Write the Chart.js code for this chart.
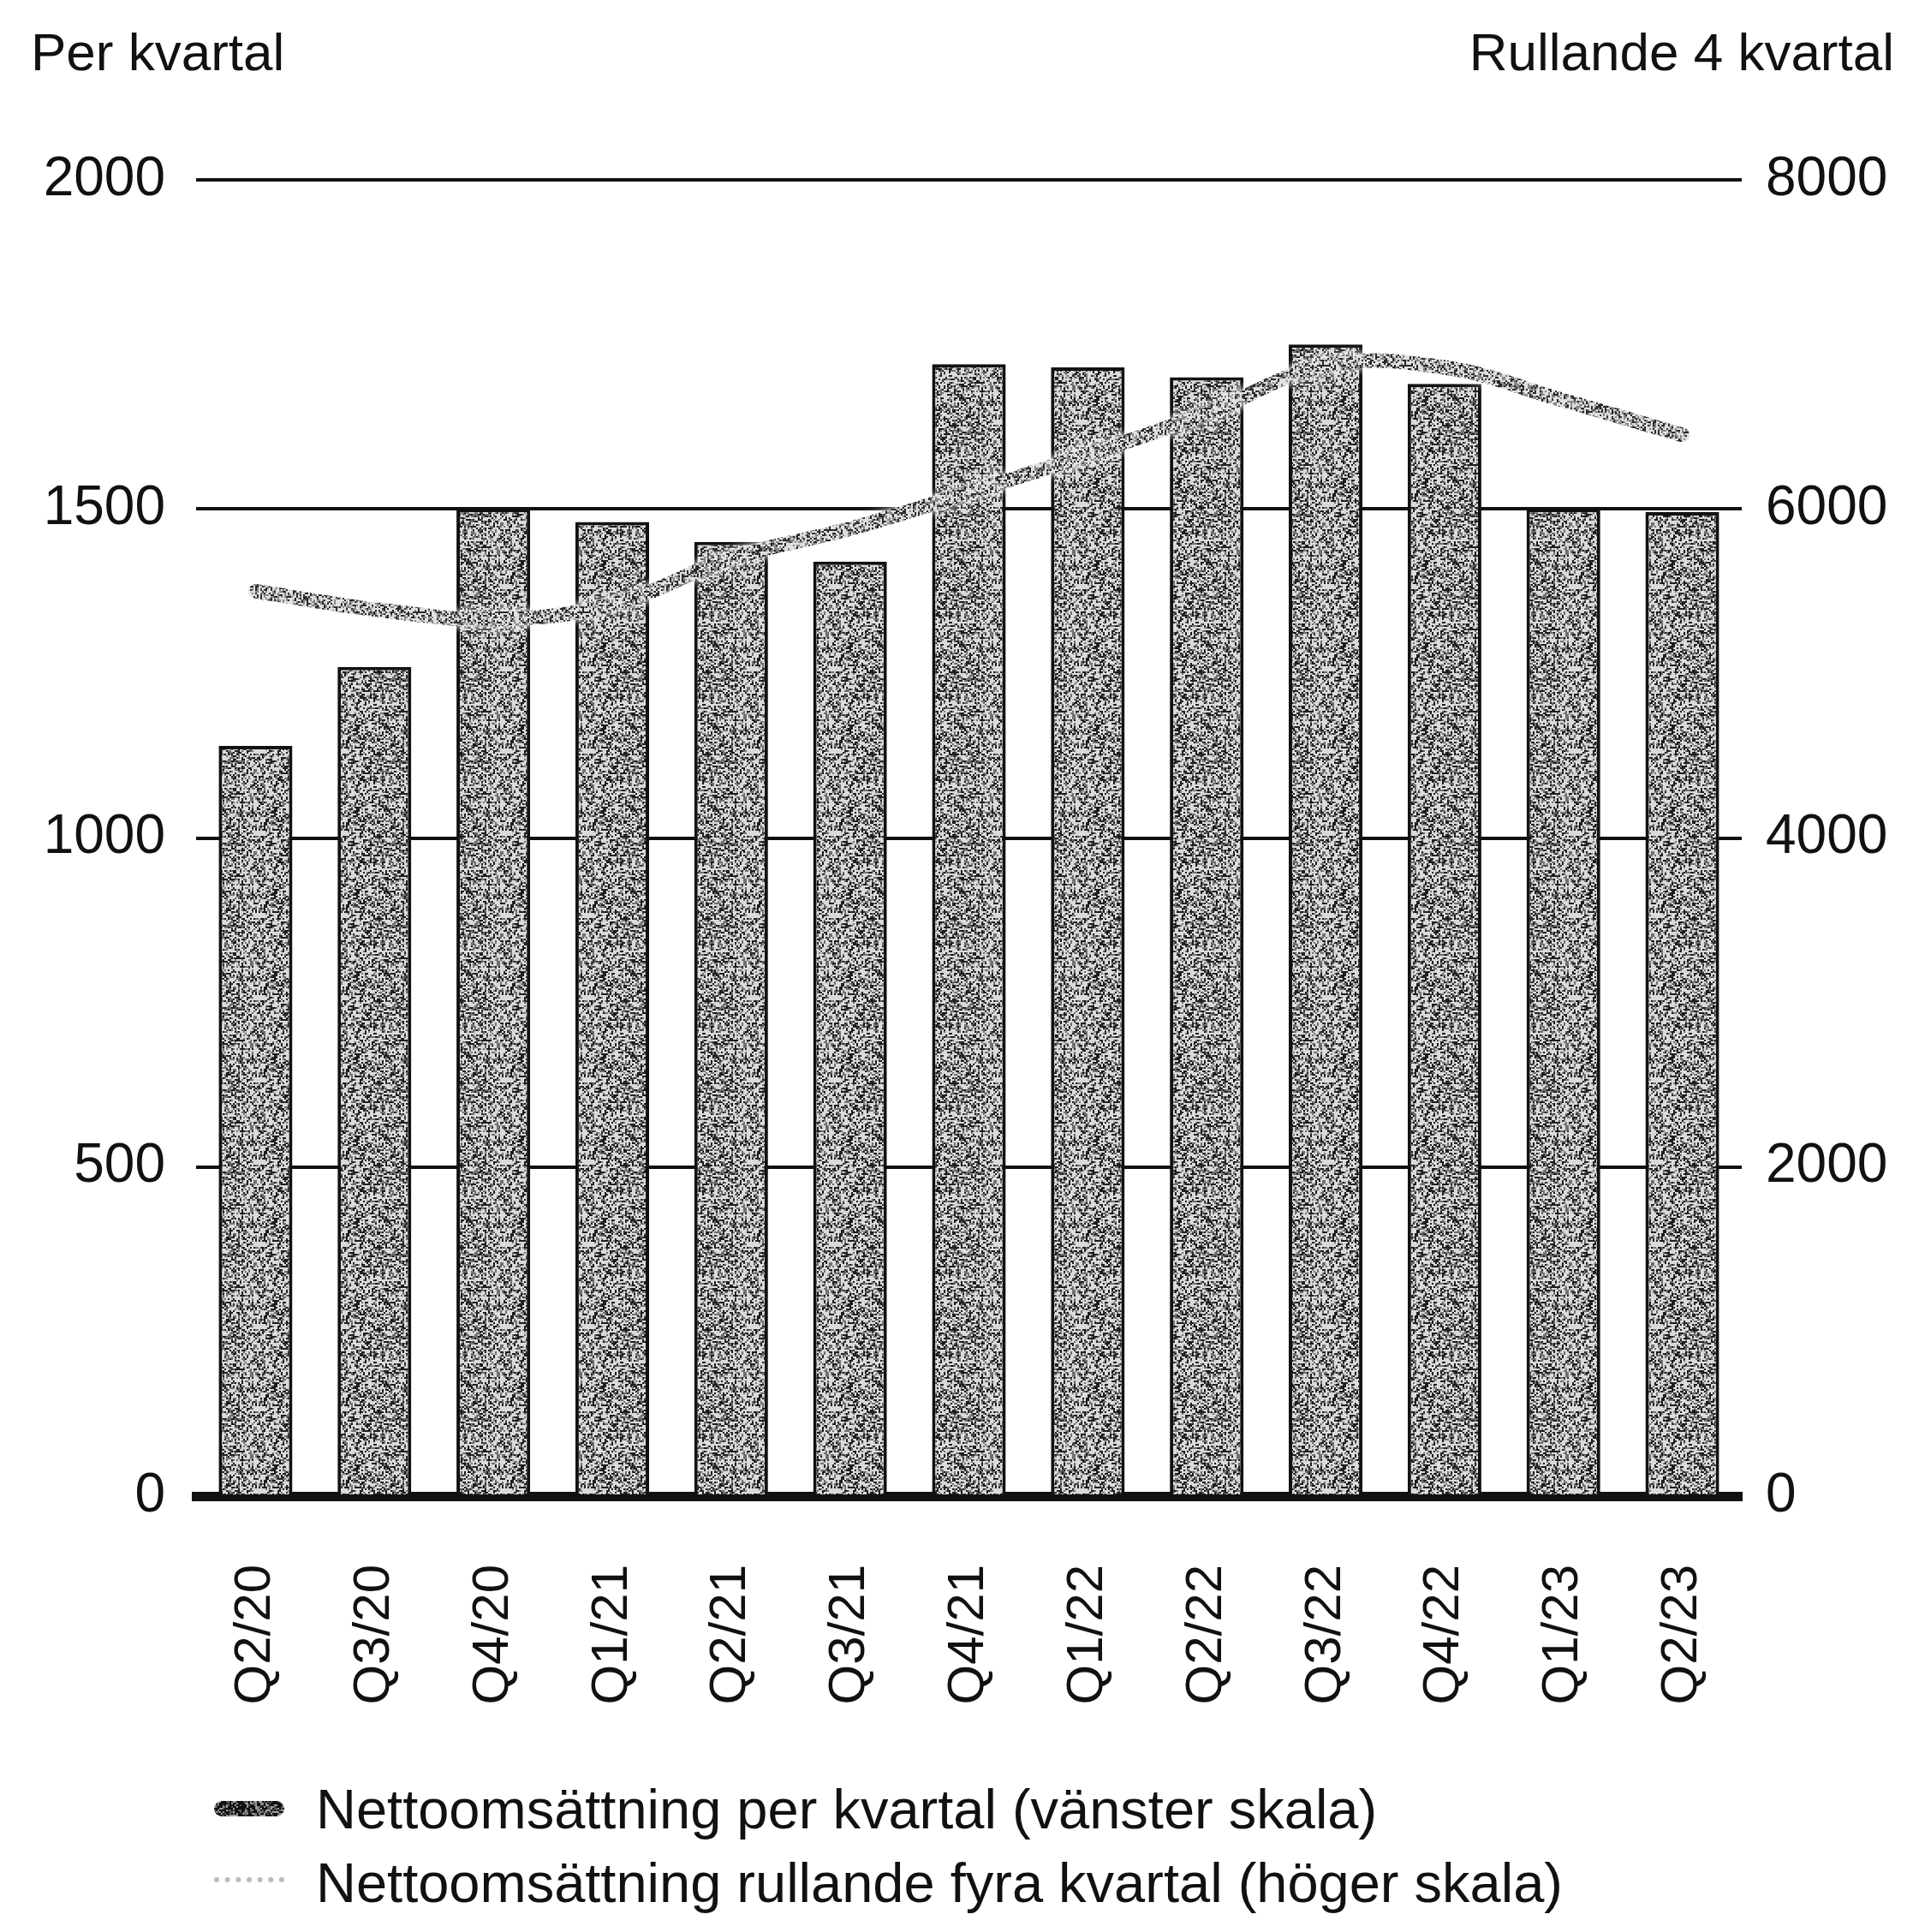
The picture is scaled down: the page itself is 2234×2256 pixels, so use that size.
<!DOCTYPE html>
<html>
<head>
<meta charset="utf-8">
<script src="https://cdn.jsdelivr.net/npm/chart.js@4.4.1/dist/chart.umd.min.js"></script>
<style>
    body { margin: 0; background: #fff; }
    #wrap { position: relative; width: 2234px; height: 2256px; }
    .txt { position: absolute; font-family: "Liberation Sans", Arial, sans-serif; color: #111; line-height: 1; white-space: nowrap; }
    .hdr { top: 30px; font-size: 62px; }
    .leg { left: 369px; font-size: 65px; }
    .icon { position: absolute; left: 250px; width: 82px; }
</style>
</head>
<body>
<div id="wrap">
    <canvas id="chart"></canvas>
    <div class="txt hdr" style="left:36px">Per kvartal</div>
    <div class="txt hdr" style="right:22px">Rullande 4 kvartal</div>
    <div class="icon" id="icon1" style="top:2103px;height:18px;border-radius:9px;"></div>
    <div class="icon" style="top:2192px;height:0;border-top:6px dotted #bbb;"></div>
    <div class="txt leg" style="top:2080px">Nettoomsättning per kvartal (vänster skala)</div>
    <div class="txt leg" style="top:2166px">Nettoomsättning rullande fyra kvartal (höger skala)</div>
</div>
<script>
// Data
const quarters = ['Q2/20', 'Q3/20', 'Q4/20', 'Q1/21', 'Q2/21', 'Q3/21', 'Q4/21',
                  'Q1/22', 'Q2/22', 'Q3/22', 'Q4/22', 'Q1/23', 'Q2/23'];
const perQuarter = [1140, 1260, 1500, 1480, 1450, 1420, 1720, 1715, 1700, 1750, 1690, 1500, 1495];
const rolling4 = [5500, 5390, 5330, 5420, 5700, 5880, 6100, 6330, 6580, 6870, 6860, 6660, 6450];
const leftTicks = [0, 500, 1000, 1500, 2000];
const rightTicks = [0, 2000, 4000, 6000, 8000];

const FONT = '"Liberation Sans", Arial, sans-serif';

// Speckled texture, like the scanned print
function speckle(base, dark, mid, darkShare, midShare, seed) {
    const c = document.createElement('canvas');
    c.width = 96; c.height = 96;
    const g = c.getContext('2d');
    g.fillStyle = base;
    g.fillRect(0, 0, 96, 96);
    let s = seed;
    const next = () => { s = (s * 1103515245 + 12345) % 2147483648; return s / 2147483648; };
    for (let y = 0; y < 96; y += 2) {
        for (let x = 0; x < 96; x += 2) {
            const r = next();
            if (r < darkShare) { g.fillStyle = dark; g.fillRect(x, y, 2, 2); }
            else if (r < darkShare + midShare) { g.fillStyle = mid; g.fillRect(x, y, 2, 2); }
        }
    }
    return c;
}

const barTex = speckle('#dadada', '#1e1e1e', '#707070', 0.26, 0.24, 7);
const lineTex = speckle('#e0e0e0', '#2a2a2a', '#888', 0.24, 0.25, 31);
document.getElementById('icon1').style.background = 'url(' + speckle('#999', '#111', '#555', 0.5, 0.2, 3).toDataURL() + ')';

const ctx = document.getElementById('chart').getContext('2d');
const barPattern = ctx.createPattern(barTex, 'repeat');
const linePattern = ctx.createPattern(lineTex, 'repeat');

// Soft white halo round the rolling line
const haloPlugin = {
    id: 'halo',
    beforeDatasetDraw(chart, args) {
        if (args.index === 0) {
            chart.ctx.save();
            chart.ctx.shadowColor = 'rgba(255,255,255,1)';
            chart.ctx.shadowBlur = 10;
        }
    },
    afterDatasetDraw(chart, args) {
        if (args.index === 0) chart.ctx.restore();
    }
};

new Chart(ctx, {
    data: {
        labels: quarters,
        datasets: [{
            type: 'line',
            label: 'Nettoomsättning rullande fyra kvartal (höger skala)',
            data: rolling4,
            yAxisID: 'y2',
            borderColor: linePattern,
            borderWidth: 17,
            tension: 0.4,
            pointRadius: 0,
            borderCapStyle: 'round',
            order: 0
        }, {
            type: 'bar',
            label: 'Nettoomsättning per kvartal (vänster skala)',
            data: perQuarter,
            yAxisID: 'y',
            backgroundColor: barPattern,
            borderColor: '#111',
            borderWidth: { left: 4, right: 4, top: 4, bottom: 0 },
            borderSkipped: 'start',
            barPercentage: 0.62,
            categoryPercentage: 1,
            order: 1
        }]
    },
    options: {
        responsive: true,
        maintainAspectRatio: false,
        animation: false,
        layout: { padding: { top: 210, left: 0, right: 0, bottom: 209 } },
        plugins: {
            legend: { display: false },
            tooltip: { enabled: false }
        },
        scales: {
            x: {
                z: 1,
                grid: { display: false },
                border: { display: true, color: '#111', width: 11 },
                ticks: {
                    color: '#111',
                    font: { family: FONT, size: 60 },
                    minRotation: 90,
                    maxRotation: 90,
                    autoSkip: false,
                    padding: 72
                },
                afterFit(scale) { scale.height = 300; }
            },
            y: {
                position: 'left',
                min: 0,
                max: 2000,
                afterBuildTicks(scale) { scale.ticks = leftTicks.map(v => ({ value: v })); },
                grid: {
                    color: '#111',
                    lineWidth: 4,
                    drawTicks: false
                },
                border: { display: false },
                ticks: {
                    color: '#111',
                    font: { family: FONT, size: 64 },
                    padding: 36,
                    callback: v => String(v)
                },
                afterFit(scale) { scale.width = 229; }
            },
            y2: {
                position: 'right',
                min: 0,
                max: 8000,
                afterBuildTicks(scale) { scale.ticks = rightTicks.map(v => ({ value: v })); },
                grid: { display: false, drawTicks: false },
                border: { display: false },
                ticks: {
                    color: '#111',
                    font: { family: FONT, size: 64 },
                    padding: 28,
                    callback: v => String(v)
                },
                afterFit(scale) { scale.width = 200; }
            }
        }
    },
    plugins: [haloPlugin]
});
</script>
</body>
</html>
